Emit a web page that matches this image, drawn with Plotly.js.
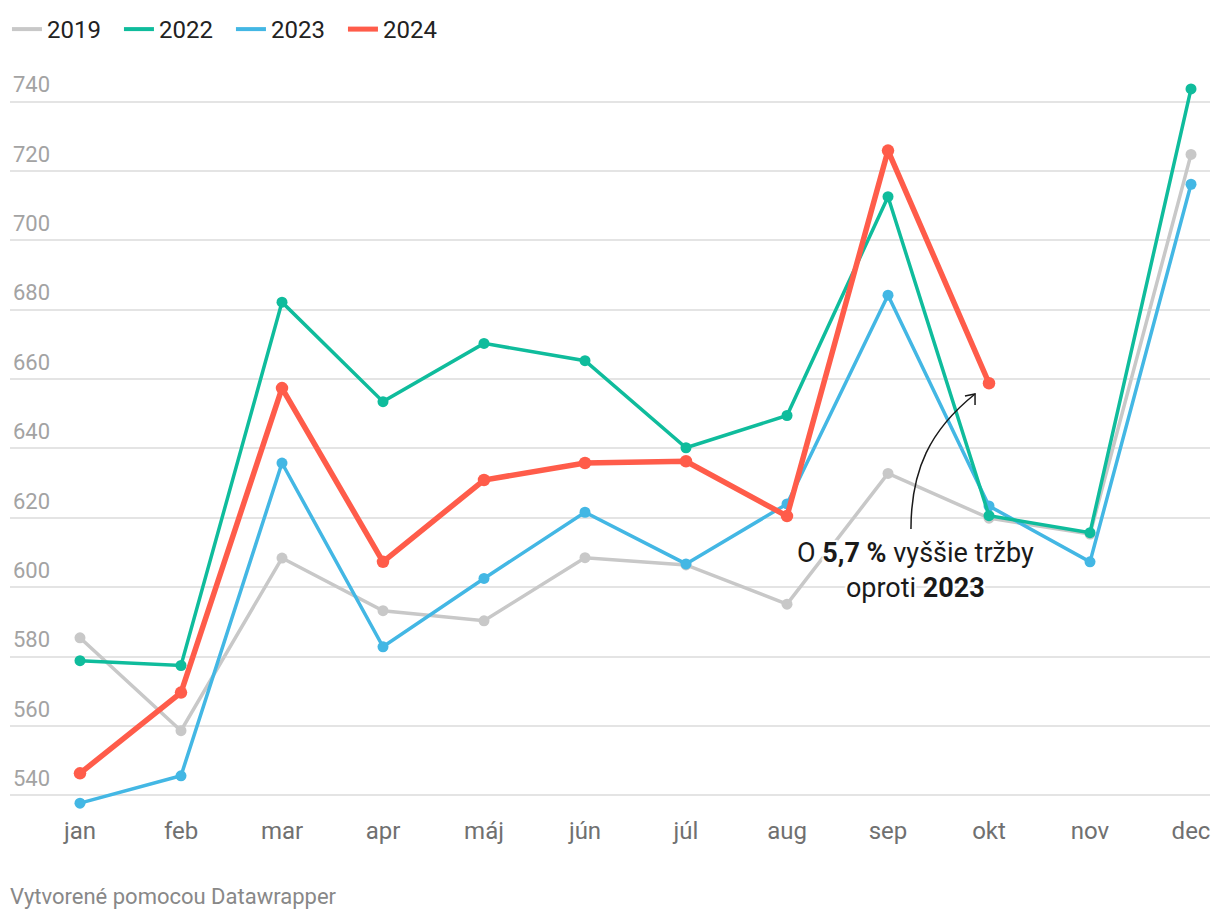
<!DOCTYPE html>
<html>
<head>
<meta charset="utf-8">
<script src="https://cdn.plot.ly/plotly-3.0.1.min.js"></script>
<style>html,body{margin:0;padding:0;background:#fff}#chart{width:1220px;height:920px}</style>
</head>
<body>
<div id="chart"></div>
<script>
const months = ["jan","feb","mar","apr","máj","jún","júl","aug","sep","okt","nov","dec"];
const y2019 = [585.4, 558.6, 608.4, 593.2, 590.3, 608.5, 606.4, 595.1, 632.8, 619.9, 615.3, 724.8];
const y2022 = [578.8, 577.4, 682.2, 653.5, 670.3, 665.3, 640.2, 649.5, 712.6, 620.6, 615.7, 743.7];
const y2023 = [537.7, 545.6, 635.8, 582.8, 602.5, 621.6, 606.7, 624.0, 684.2, 623.4, 607.3, 716.2];
const y2024 = [546.3, 569.6, 657.4, 607.3, 630.9, 635.8, 636.3, 620.5, 725.9, 658.8];
const seriesNames = ["2019","2022","2023","2024"];
const colors = {"2019":"#c8c8c8","2022":"#0fbc9c","2023":"#43b7e4","2024":"#ff5c4a"};
const widths = {"2019":3.5,"2022":3.5,"2023":3.5,"2024":5.5};
const msizes = {"2019":11,"2022":11,"2023":11,"2024":12.5};
const seriesData = {"2019":y2019,"2022":y2022,"2023":y2023,"2024":y2024};
const drawOrder = ["2019","2023","2022","2024"];

const traces = [];
drawOrder.forEach(n => {
  traces.push({
    x: months.slice(0, seriesData[n].length), y: seriesData[n], name: n,
    type: "scatter", mode: "lines+markers", showlegend: false,
    line: {color: colors[n], width: widths[n]},
    marker: {color: colors[n], size: msizes[n]},
    hoverinfo: "skip"
  });
});
seriesNames.forEach((n, i) => {
  traces.push({
    x: [null], y: [null], name: n, type: "scatter", mode: "lines",
    line: {color: colors[n], width: n === "2024" ? 5 : 4},
    legendrank: i + 1, showlegend: true
  });
});

const layout = {
  width: 1220, height: 920,
  margin: {l: 10, r: 10, t: 60, b: 110},
  paper_bgcolor: "#fff", plot_bgcolor: "#fff",
  font: {family: "Roboto, sans-serif", color: "#222"},
  showlegend: true,
  legend: {orientation: "h", xref: "container", yref: "container", x: 0.0057, y: 1 - 7/920, xanchor: "left", yanchor: "top",
           font: {size: 24, color: "#222"}, itemwidth: 30, traceorder: "normal",
           entrywidth: 67, entrywidthmode: "pixels"},
  xaxis: {type: "category", categoryarray: months, range: [-0.693, 11.188],
          showgrid: false, zeroline: false, showline: false, ticks: "",
          ticklabelstandoff: 4,
          tickfont: {size: 24, color: "#707070"}, fixedrange: true},
  yaxis: {range: [535.73, 752.03], tick0: 540, dtick: 20, showgrid: true, gridcolor: "#e4e4e4", gridwidth: 2,
          zeroline: false, showline: false, ticks: "", ticklabelposition: "inside", ticklabelshift: -17,
          ticklabelstandoff: 0,
          tickfont: {size: 22, color: "#a3a3a3"}, fixedrange: true},
  shapes: [
    {type: "path", xref: "paper", yref: "paper",
     path: "M 0.7508 0.3747 C 0.7508 0.4533, 0.7667 0.5067, 0.8042 0.5547",
     line: {color: "#1a1a1a", width: 1.5}},
    {type: "path", xref: "paper", yref: "paper",
     path: "M 0.7958 0.552 L 0.8042 0.5547 L 0.8042 0.540",
     line: {color: "#1a1a1a", width: 1.5}}
  ],
  annotations: [
    {xref: "paper", yref: "paper", x: 0.7542, y: 0.3187, xanchor: "center", yanchor: "middle", align: "center",
     showarrow: false, text: "O <b>5,7 %</b> vyššie tržby<br>oproti <b>2023</b>",
     font: {size: 27, color: "#1a1a1a", shadow: "2px 2px 1px #fff, -2px -2px 1px #fff, 2px -2px 1px #fff, -2px 2px 1px #fff"}},
    {xref: "paper", yref: "paper", x: -0.002, y: (810 - 896) / 750, xanchor: "left", yanchor: "middle",
     showarrow: false, text: "Vytvorené pomocou Datawrapper", font: {size: 22, color: "#888"}}
  ]
};
Plotly.newPlot("chart", traces, layout, {displayModeBar: false, staticPlot: true});
</script>
</body>
</html>
